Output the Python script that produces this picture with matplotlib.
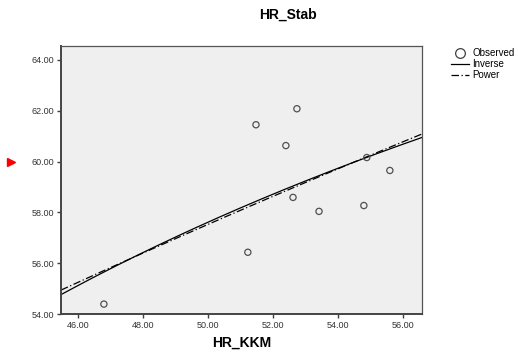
import numpy as np
import matplotlib
matplotlib.use("Agg")
import matplotlib.pyplot as plt
from matplotlib.lines import Line2D

plt.rcParams['font.family'] = ['Liberation Sans', 'DejaVu Sans']

hr_kkm = [46.79, 51.22, 51.47, 52.39, 52.73, 52.61, 53.41, 54.79, 54.88, 55.59]
hr_stab = [54.39, 56.43, 61.45, 60.63, 62.08, 58.59, 58.04, 58.27, 60.16, 59.65]

x_ticks = [46.0, 48.0, 50.0, 52.0, 54.0, 56.0]
y_ticks = [54.0, 56.0, 58.0, 60.0, 62.0, 64.0]
x_limits = (45.47, 56.57)
y_limits = (54.0, 64.55)

x = np.array(hr_kkm)
y = np.array(hr_stab)

# Curve fits (as in SPSS Curve Estimation)
b1, b0 = np.polyfit(1.0 / x, y, 1)          # Inverse: y = b0 + b1/x
pb, pa = np.polyfit(np.log(x), np.log(y), 1)  # Power: y = a * x^b

W, H = 518, 352
fig = plt.figure(figsize=(W / 100, H / 100), dpi=100)
fig.patch.set_facecolor('white')

l, r, t, b = 61, 421.7, 46, 314
ax = fig.add_axes([l / W, 1 - b / H, (r - l) / W, (b - t) / H])
ax.set_facecolor('#efefef')

xs = np.linspace(x_limits[0], x_limits[1], 200)
ax.plot(xs, b0 + b1 / xs, color='black', lw=0.9, zorder=2)
ax.plot(xs, np.exp(pa) * xs ** pb, color='black', lw=0.9,
        dashes=(6, 2, 1, 2), zorder=2)
ax.scatter(x, y, s=20, facecolors='none', edgecolors='#505050',
           linewidths=0.9, zorder=3)

ax.set_xlim(*x_limits)
ax.set_ylim(*y_limits)
ax.set_xticks(x_ticks)
ax.set_yticks(y_ticks)
ax.set_xticklabels([f"{v:.2f}" for v in x_ticks])
ax.set_yticklabels([f"{v:.2f}" for v in y_ticks])
ax.tick_params(direction='out', length=3, width=1, colors='#404040',
               labelsize=6.5, labelcolor='#333333', pad=2)

for side in ['left', 'bottom']:
    ax.spines[side].set_color('#444444')
    ax.spines[side].set_linewidth(1.4)
for side in ['top', 'right']:
    ax.spines[side].set_color('#555555')
    ax.spines[side].set_linewidth(0.9)

ax.set_xlabel('HR_KKM', fontsize=10, fontweight='bold', labelpad=4)

fig.text(288 / W, 1 - 15 / H, 'HR_Stab', fontsize=10, fontweight='bold',
         ha='center', va='center')

# Legend (placed manually outside the plot area)
handles = [
    Line2D([], [], ls='none', marker='o', markersize=7, markerfacecolor='none',
           markeredgecolor='#404040', markeredgewidth=0.9),
    Line2D([], [], color='black', lw=0.9),
    Line2D([], [], color='black', lw=0.9, dashes=(6, 2, 1, 2)),
]
leg = fig.legend(handles, ['Observed', 'Inverse', 'Power'],
                 loc='upper left', bbox_to_anchor=(451 / W, 1 - 48 / H),
                 frameon=False, fontsize=7, handlelength=1.8,
                 handletextpad=0.4, labelspacing=0.12, borderaxespad=0,
                 borderpad=0)

# Red marker on the left edge
fig.add_artist(Line2D([11 / W], [1 - 162 / H], marker='>', color='red',
                      markersize=6, ls='none', transform=fig.transFigure))

fig.savefig('out.png', dpi=100)
